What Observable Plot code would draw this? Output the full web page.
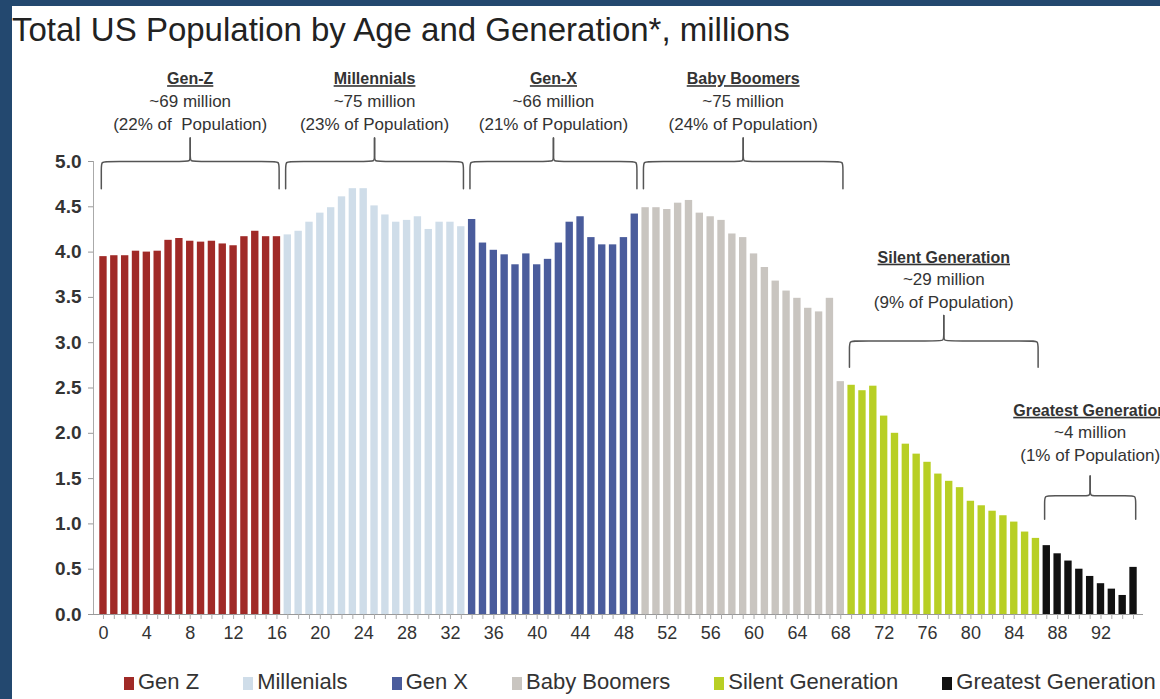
<!DOCTYPE html>
<html><head><meta charset="utf-8">
<script src="https://cdn.jsdelivr.net/npm/d3@7"></script>
<script src="https://cdn.jsdelivr.net/npm/@observablehq/plot@0.6"></script>
<style>
html,body{margin:0;padding:0;background:#23486f;width:1160px;height:699px;overflow:hidden;font-family:"Liberation Sans",Arial,sans-serif}
#panel{position:absolute;left:12px;top:6px;width:1148px;height:693px;background:#fff;overflow:hidden}
#title{height:46px;line-height:48px;font-size:33px;color:#222;padding-left:0px;white-space:nowrap}
#chart{height:613px}
#legend{height:34px;display:flex;align-items:center;padding-left:112px;gap:44px;font-size:22px;color:#333;white-space:nowrap}
#legend .sw{display:inline-block;width:10px;height:13px;margin-right:4px;vertical-align:-1px}
</style>
</head><body>
<div id="panel">
<div id="title">Total US Population by Age and Generation*, millions</div>
<div id="chart"></div>
<div id="legend"></div>
</div>
<script>
// Population by single year of age (millions), ages 0..95
const values = [
  3.95,3.96,3.96,4.01,4.00,4.01,4.13,4.15,4.12,4.11,4.12,4.09,4.07,4.17,4.23,4.17,4.17,
  4.19,4.23,4.33,4.43,4.49,4.61,4.70,4.70,4.51,4.41,4.33,4.35,4.39,4.25,4.33,4.33,4.28,
  4.36,4.10,4.02,3.97,3.86,3.98,3.86,3.92,4.10,4.33,4.39,4.16,4.08,4.08,4.16,4.42,
  4.49,4.49,4.47,4.54,4.57,4.43,4.39,4.35,4.20,4.16,3.98,3.83,3.68,3.57,3.49,3.38,3.34,3.49,2.57,
  2.53,2.47,2.52,2.19,2.00,1.88,1.77,1.68,1.55,1.47,1.40,1.25,1.20,1.14,1.09,1.02,0.91,0.84,
  0.76,0.67,0.59,0.50,0.42,0.34,0.28,0.21,0.52
];
const ages = values.map((v, i) => i);
const generations = ["Gen Z","Millenials","Gen X","Baby Boomers","Silent Generation","Greatest Generation"];
const genColors = ["#a02a27","#cfdde9","#4a5c9c","#c9c5c0","#b8cf24","#111111"];
const genStartAge = [0,17,34,50,69,87];
const genEndAge = [16,33,49,68,86,95];
const xTickLabels = [0,4,8,12,16,20,24,28,32,36,40,44,48,52,56,60,64,68,72,76,80,84,88,92];
const yTicks = [0,0.5,1,1.5,2,2.5,3,3.5,4,4.5,5];

// annotations
const annoTitles = ["Gen-Z","Millennials","Gen-X","Baby Boomers","Silent Generation","Greatest Generation"];
const annoCounts = ["~69 million","~75 million","~66 million","~75 million","~29 million","~4 million"];
const annoShares = ["(22% of  Population)","(23% of Population)","(21% of Population)","(24% of Population)","(9% of Population)","(1% of Population)"];
const braceBase = [4.70,4.70,4.70,4.70,2.73,1.05];
const braceLine = [5.00,5.00,5.00,5.00,3.02,1.31];
const braceTip  = [5.26,5.26,5.26,5.26,3.30,1.53];
const labelTop  = [5.91,5.91,5.91,5.91,3.94,2.25];

const genOf = a => genStartAge.findLastIndex(s => a >= s);
const data = ages.map(a => ({age: a, value: values[a], gen: generations[genOf(a)]}));

// brace geometry (in data units)
const braces = [];
generations.forEach((g, i) => {
  const a = genStartAge[i] - 0.2, b = genEndAge[i] + 0.2, c = (genStartAge[i] + genEndAge[i]) / 2;
  const lo = braceBase[i], h = braceLine[i], t = braceTip[i];
  const rx = 0.6, ry = (h - lo) * 0.25;
  const left = [[a, lo],[a, h - ry],[a, h],[a + rx, h],[c - rx, h],[c, h],[c, h + ry * 0.8],[c, t]];
  const right = [[c, t],[c, h + ry * 0.8],[c, h],[c + rx, h],[b - rx, h],[b, h],[b, h - ry],[b, lo]];
  left.forEach(([x, y]) => braces.push({x, y, k: g + "L"}));
  right.forEach(([x, y]) => braces.push({x, y, k: g + "R"}));
});
const annos = generations.map((g, i) => ({
  x: (genStartAge[i] + genEndAge[i]) / 2, y: labelTop[i],
  title: annoTitles[i], count: annoCounts[i], share: annoShares[i]
}));

const xDomain = [-0.92, 95.92];
const txt = "#333";
const plot = Plot.plot({
  width: 1148, height: 613,
  marginTop: 109, marginBottom: 51, marginLeft: 81, marginRight: 17,
  style: {fontFamily: "Liberation Sans, Arial, sans-serif", background: "transparent", overflow: "visible"},
  x: {type: "linear", domain: xDomain, label: null},
  y: {domain: [0, 5], label: null},
  color: {domain: generations, range: genColors},
  marks: [
    Plot.rectY(data, {x1: d => d.age - 0.34, x2: d => d.age + 0.34, y1: 0, y2: "value", fill: "gen"}),
    Plot.ruleY([0], {stroke: "#999"}),
    Plot.ruleX([xDomain[0]], {y1: 0, y2: yTicks[yTicks.length - 1], stroke: "#aaa"}),
    Plot.axisY({ticks: yTicks, tickFormat: d3.format(".1f"), tickSize: 5, tickPadding: 7, fontSize: 19, fontWeight: "bold", fill: txt, stroke: "#999"}),
    Plot.axisX({ticks: ages, tickSize: 5, tickPadding: 7, fontSize: 18, fill: txt, stroke: "#aaa",
      tickFormat: d => xTickLabels.includes(d) ? String(d) : ""}),
    Plot.line(braces, {x: "x", y: "y", z: "k", curve: "basis", stroke: "#555", strokeWidth: 1.5}),
    Plot.text(annos, {x: "x", y: "y", text: "title", fontSize: 16, fontWeight: "bold", fill: txt}),
    Plot.text(annos, {x: "x", y: "y", dy: 22, text: "count", fontSize: 17, fill: txt}),
    Plot.text(annos, {x: "x", y: "y", dy: 45, text: "share", fontSize: 17, fill: txt})
  ]
});
d3.select(plot).selectAll("text").filter(function() { return annoTitles.includes(this.textContent); })
  .style("text-decoration", "underline");
document.getElementById("chart").appendChild(plot);

const legend = document.getElementById("legend");
generations.forEach((g, i) => {
  const item = document.createElement("span");
  item.innerHTML = `<span class="sw" style="background:${genColors[i]}"></span>${g}`;
  legend.appendChild(item);
});
</script>
</body></html>
